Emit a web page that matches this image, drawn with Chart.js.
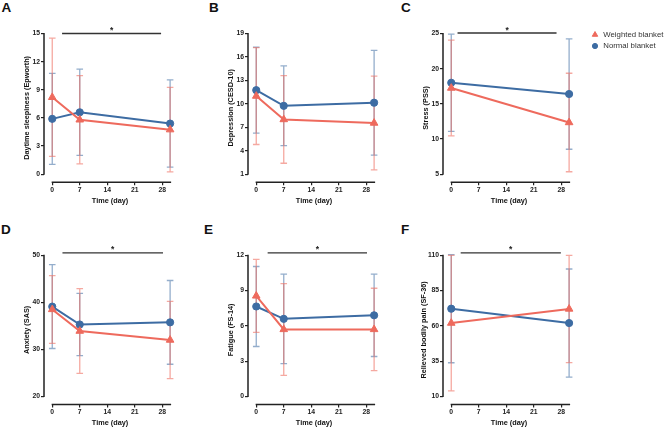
<!DOCTYPE html>
<html>
<head>
<meta charset="utf-8">
<script src="https://cdn.jsdelivr.net/npm/chart.js@4.4.0/dist/chart.umd.min.js"></script>
<style>
  body { margin: 0; background: #fff; width: 669px; height: 428px; position: relative; overflow: hidden;
         font-family: "Liberation Sans", Arial, Helvetica, sans-serif; }
  .panel { position: absolute; }
  .tag { position: absolute; font-weight: bold; font-size: 13.5px; line-height: 14px; color: #111; }
</style>
</head>
<body>
<div class="tag" style="left:1.5px;top:1px">A</div>
<div class="tag" style="left:209px;top:1px">B</div>
<div class="tag" style="left:401px;top:1px">C</div>
<div class="tag" style="left:1px;top:223px">D</div>
<div class="tag" style="left:204px;top:223px">E</div>
<div class="tag" style="left:401px;top:223px">F</div>

<div class="panel" style="left:0;top:0"><canvas id="chartA" width="190" height="215"></canvas></div>
<div class="panel" style="left:204px;top:0"><canvas id="chartB" width="190" height="215"></canvas></div>
<div class="panel" style="left:399px;top:0"><canvas id="chartC" width="270" height="215"></canvas></div>
<div class="panel" style="left:0;top:215px"><canvas id="chartD" width="190" height="213"></canvas></div>
<div class="panel" style="left:204px;top:215px"><canvas id="chartE" width="190" height="213"></canvas></div>
<div class="panel" style="left:399px;top:215px"><canvas id="chartF" width="190" height="213"></canvas></div>

<script>
// time points (day) and x tick labels
const days3 = [0, 7, 30];
const days2 = [0, 30];
const dayTicks = [0, 7, 14, 21, 28];

// A - daytime sleepiness (Epworth), mean and SD
const sleepWeighted = [8.2, 5.8, 4.75];
const sleepWeightedSD = [6.3, 4.7, 4.5];
const sleepNormal = [5.9, 6.6, 5.4];
const sleepNormalSD = [4.85, 4.6, 4.65];
const sleepTicks = [0, 3, 6, 9, 12, 15];
const sleepSig = [2.5, 27.7];

// B - depression (CESD-10)
const deprWeighted = [11.0, 8.0, 7.55];
const deprWeightedSD = [6.2, 5.6, 6.0];
const deprNormal = [11.75, 9.75, 10.15];
const deprNormalSD = [5.5, 5.1, 6.7];
const deprTicks = [1, 4, 7, 10, 13, 16, 19];

// C - stress (PSS)
const stressWeighted = [17.25, 12.35];
const stressWeightedSD = [6.8, 7.0];
const stressNormal = [18.0, 16.4];
const stressNormalSD = [6.9, 7.85];
const stressTicks = [5, 10, 15, 20, 25];
const stressSig = [1.6, 26.8];

// D - anxiety (SAS)
const anxWeighted = [38.5, 33.9, 32.0];
const anxWeightedSD = [7.2, 9.0, 8.2];
const anxNormal = [39.1, 35.3, 35.75];
const anxNormalSD = [8.9, 6.6, 8.9];
const anxTicks = [20, 30, 40, 50];
const anxSig = [2.6, 28.2];

// E - fatigue (FS-14)
const fatWeighted = [8.55, 5.7, 5.7];
const fatWeightedSD = [3.1, 3.9, 3.5];
const fatNormal = [7.65, 6.6, 6.9];
const fatNormalSD = [3.4, 3.8, 3.5];
const fatTicks = [0, 3, 6, 9, 12];
const fatSig = [2.9, 28.2];

// F - relieved bodily pain (SF-36)
const painWeighted = [62, 72];
const painWeightedSD = [48, 38];
const painNormal = [72.2, 62];
const painNormalSD = [38.3, 38.3];
const painTicks = [10, 35, 60, 85, 110];
const painSig = [2.4, 27.9];

const FONT = '"Liberation Sans", Arial, Helvetica, sans-serif';
const RED = '#ee6a5d';
const BLUE = '#3d6ca3';
const RED_BAR = 'rgba(238,106,93,0.58)';
const BLUE_BAR = 'rgba(61,108,163,0.55)';
const tickFont = { family: FONT, size: 6.8, weight: 'bold' };
const titleFont = { family: FONT, size: 7.3, weight: 'bold', lineHeight: 1.2 };

// mean +/- SD whiskers, drawn under the lines
const errorBars = {
    id: 'errorBars',
    beforeDatasetsDraw(chart) {
        const { ctx, scales: { x, y } } = chart;
        ctx.save();
        ctx.lineWidth = 1.3;
        chart.data.datasets.slice().reverse().forEach(ds => {
            ctx.strokeStyle = ds.barColor;
            ds.data.forEach(p => {
                const xp = x.getPixelForValue(p.x);
                const y1 = y.getPixelForValue(p.y + p.sd);
                const y2 = y.getPixelForValue(p.y - p.sd);
                ctx.beginPath();
                ctx.moveTo(xp, y1); ctx.lineTo(xp, y2);
                ctx.moveTo(xp - 3.3, y1); ctx.lineTo(xp + 3.3, y1);
                ctx.moveTo(xp - 3.3, y2); ctx.lineTo(xp + 3.3, y2);
                ctx.stroke();
            });
        });
        ctx.restore();
    }
};

// Prism-style detached axes
const prismAxes = {
    id: 'prismAxes',
    afterDraw(chart, args, opts) {
        const { ctx, chartArea, scales: { x, y } } = chart;
        const yt = y.ticks;
        ctx.save();
        ctx.strokeStyle = '#222';
        ctx.lineWidth = 1.5;
        ctx.beginPath();
        ctx.moveTo(chartArea.left, y.getPixelForValue(yt[yt.length - 1].value) - 0.6);
        ctx.lineTo(chartArea.left, y.getPixelForValue(yt[0].value) + 0.6);
        ctx.moveTo(x.getPixelForValue(0) - 0.6, chartArea.bottom);
        ctx.lineTo(x.getPixelForValue(opts.xEnd) + 1, chartArea.bottom);
        ctx.stroke();
        ctx.restore();
    }
};

// significance bracket with star
const sigBar = {
    id: 'sigBar',
    afterDraw(chart, args, opts) {
        const { ctx, scales: { x, y } } = chart;
        const yt = y.ticks;
        const yp = y.getPixelForValue(yt[yt.length - 1].value) - opts.lift;
        const x1 = x.getPixelForValue(opts.range[0]);
        const x2 = x.getPixelForValue(opts.range[1]);
        ctx.save();
        ctx.strokeStyle = '#333';
        ctx.lineWidth = 1.3;
        ctx.beginPath();
        ctx.moveTo(x1, yp); ctx.lineTo(x2, yp);
        ctx.stroke();
        ctx.fillStyle = '#222';
        ctx.font = 'bold 8.5px ' + FONT;
        ctx.textAlign = 'center';
        ctx.textBaseline = 'alphabetic';
        ctx.fillText('*', (x1 + x2) / 2, yp - 0.5);
        ctx.restore();
    }
};

// legend to the right of panel C
const sideLegend = {
    id: 'sideLegend',
    afterDraw(chart, args, opts) {
        const { ctx } = chart;
        ctx.save();
        chart.data.datasets.forEach((ds, i) => {
            const cy = opts.y + i * opts.step;
            ctx.fillStyle = ds.borderColor;
            ctx.strokeStyle = ds.borderColor;
            Chart.helpers.drawPoint(ctx, { pointStyle: ds.pointStyle, radius: ds.pointRadius * 0.72, rotation: 0, borderWidth: 1 }, opts.x, cy);
            ctx.fillStyle = '#333';
            ctx.font = '7.8px ' + FONT;
            ctx.textAlign = 'left';
            ctx.textBaseline = 'middle';
            ctx.fillText(ds.label, opts.x + 8.3, cy);
        });
        ctx.restore();
    }
};

function series(label, days, mean, sd, color, barColor, style, radius) {
    return {
        label: label,
        data: days.map((d, i) => ({ x: d, y: mean[i], sd: sd[i] })),
        borderColor: color,
        backgroundColor: color,
        borderWidth: 2,
        pointStyle: style,
        pointRadius: radius,
        pointBorderWidth: 1,
        pointBackgroundColor: color,
        barColor: barColor,
        clip: false,
        tension: 0
    };
}

function makePanel(id, cfg) {
    const lo = cfg.yTicks[0];
    const hi = cfg.yTicks[cfg.yTicks.length - 1];
    return new Chart(document.getElementById(id), {
        type: 'line',
        data: {
            datasets: [
                series('Weighted blanket', cfg.days, cfg.weighted, cfg.weightedSD, RED, RED_BAR, 'triangle', 4.4),
                series('Normal blanket', cfg.days, cfg.normal, cfg.normalSD, BLUE, BLUE_BAR, 'circle', 3.6)
            ]
        },
        options: {
            responsive: false,
            animation: false,
            events: [],
            layout: { padding: { left: 0, right: cfg.padRight || 14, top: cfg.padTop, bottom: cfg.padBottom } },
            plugins: {
                legend: { display: false },
                tooltip: { enabled: false },
                prismAxes: { xEnd: 30 },
                sigBar: cfg.sig ? { range: cfg.sig, lift: cfg.lift } : false,
                sideLegend: cfg.legend ? cfg.legend : false
            },
            scales: {
                x: {
                    type: 'linear',
                    min: -2.1,
                    max: 31.5,
                    afterBuildTicks: s => { s.ticks = dayTicks.map(v => ({ value: v })); },
                    afterFit: s => { s.height = 23; },
                    border: { display: false },
                    grid: { drawOnChartArea: false, drawTicks: true, tickLength: 3, color: '#222', lineWidth: 1.2 },
                    ticks: { font: tickFont, color: '#222', padding: 1, maxRotation: 0, autoSkip: false },
                    title: { display: true, text: 'Time (day)', font: titleFont, color: '#111', padding: { top: 0, bottom: 0 } }
                },
                y: {
                    type: 'linear',
                    min: lo - (hi - lo) * 8 / 141,
                    max: hi,
                    afterBuildTicks: s => { s.ticks = cfg.yTicks.map(v => ({ value: v })); },
                    afterFit: s => { s.width = 44; },
                    border: { display: false },
                    grid: { drawOnChartArea: false, drawTicks: true, tickLength: 3, color: '#222', lineWidth: 1.2 },
                    ticks: { font: tickFont, color: '#222', padding: 1, autoSkip: false },
                    title: { display: true, text: cfg.yTitle, font: titleFont, color: '#111',
                             padding: { top: cfg.titlePad || 22.6, bottom: 0 } }
                }
            }
        },
        plugins: [errorBars, prismAxes, sigBar, sideLegend]
    });
}

const topRow = { padTop: 33.5, padBottom: 9.8 };
const bottomRow = { padTop: 40.3, padBottom: 0.5 };

makePanel('chartA', Object.assign({}, topRow, {
    days: days3, weighted: sleepWeighted, weightedSD: sleepWeightedSD,
    normal: sleepNormal, normalSD: sleepNormalSD, yTicks: sleepTicks,
    yTitle: 'Daytime sleepiness (Epworth)', sig: sleepSig, lift: 0
}));
makePanel('chartB', Object.assign({}, topRow, {
    days: days3, weighted: deprWeighted, weightedSD: deprWeightedSD,
    normal: deprNormal, normalSD: deprNormalSD, yTicks: deprTicks,
    yTitle: 'Depression (CESD-10)'
}));
makePanel('chartC', Object.assign({}, topRow, {
    days: days2, weighted: stressWeighted, weightedSD: stressWeightedSD,
    normal: stressNormal, normalSD: stressNormalSD, yTicks: stressTicks,
    yTitle: 'Stress (PSS)', sig: stressSig, lift: 0.5, padRight: 94,
    legend: { x: 196, y: 34.7, step: 11.3 }
}));
makePanel('chartD', Object.assign({}, bottomRow, {
    days: days3, weighted: anxWeighted, weightedSD: anxWeightedSD,
    normal: anxNormal, normalSD: anxNormalSD, yTicks: anxTicks,
    yTitle: 'Anxiety (SAS)', sig: anxSig, lift: 2.5
}));
makePanel('chartE', Object.assign({}, bottomRow, {
    days: days3, weighted: fatWeighted, weightedSD: fatWeightedSD,
    normal: fatNormal, normalSD: fatNormalSD, yTicks: fatTicks,
    yTitle: 'Fatigue (FS-14)', sig: fatSig, lift: 2.5
}));
makePanel('chartF', Object.assign({}, bottomRow, {
    days: days2, weighted: painWeighted, weightedSD: painWeightedSD,
    normal: painNormal, normalSD: painNormalSD, yTicks: painTicks,
    yTitle: 'Relieved bodily pain (SF-36)', sig: painSig, lift: 2.5, titlePad: 20.3
}));
</script>
</body>
</html>
